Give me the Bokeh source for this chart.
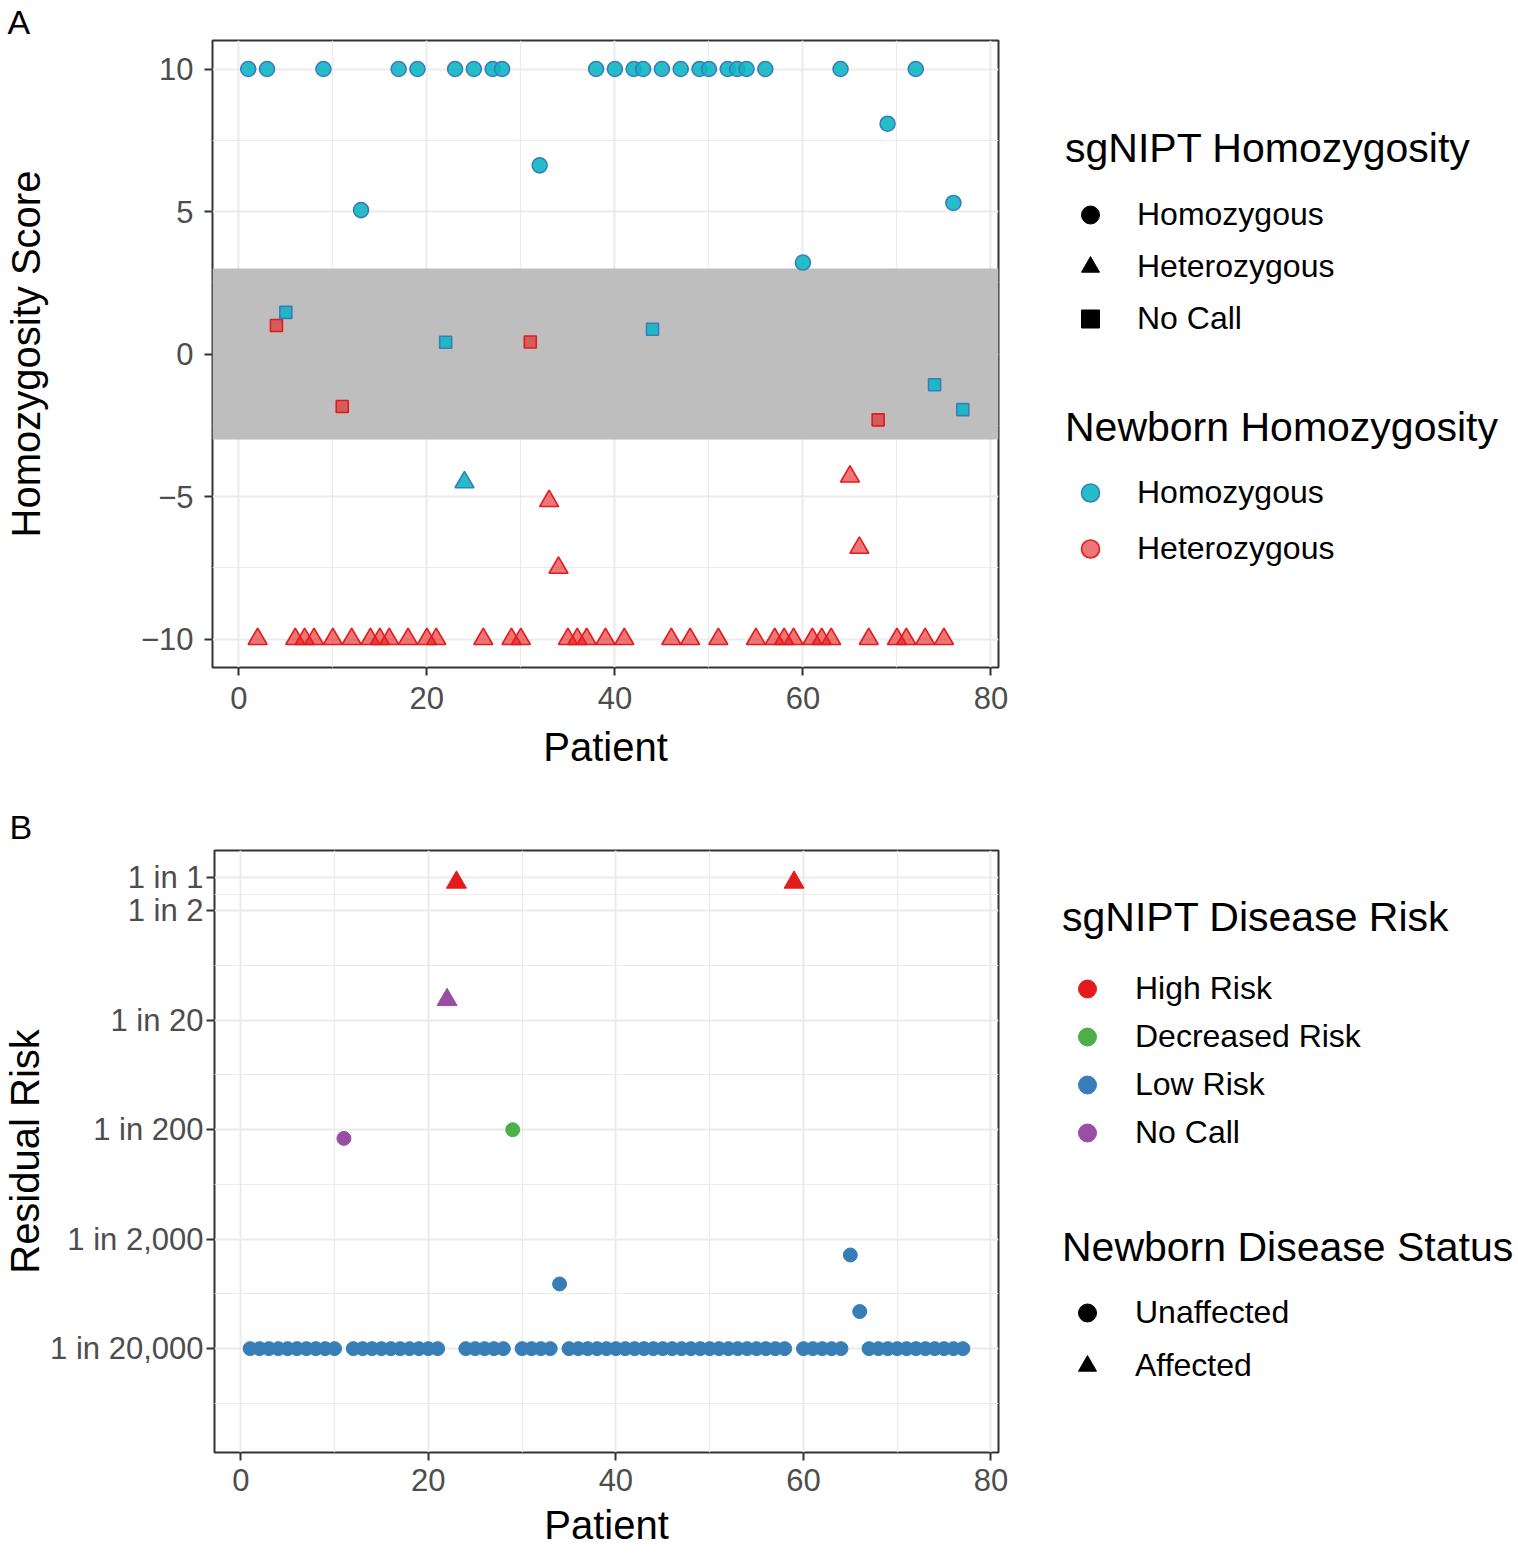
from bokeh.plotting import figure
from bokeh.models import (ColumnDataSource, FixedTicker, Range1d, BoxAnnotation,
                          Legend, LegendItem, Title)
from bokeh.layouts import column, row
from bokeh.transform import factor_cmap, factor_mark
from bokeh.embed import file_html
from bokeh.resources import INLINE

FONT = "Liberation Sans"

# ---------------- data ----------------
HOM, HET, NC = "Homozygous", "Heterozygous", "No Call"
patients = list(range(1, 78))

homozygosity_score = [
    10, -10, 10, 1.0, 1.46, -10, -10, -10, 10, -10,
    -1.84, -10, 5.05, -10, -10, -10, 10, -10, 10, -10,
    -10, 0.41, 10, -4.5, 10, -10, 10, 10, -10, -10,
    0.42, 6.62, -5.16, -7.5, -10, -10, -10, 10, -10, 10,
    -10, 10, 10, 0.87, 10, -10, 10, -10, 10, 10,
    -10, 10, 10, 10, -10, 10, -10, -10, -10, 3.21,
    -10, -10, -10, 10, -4.3, -6.8, -10, -2.31, 8.08, -10,
    -10, 10, -10, -1.08, -10, 5.30, -1.95]

sgnipt_homozygosity = [
    HOM, HET, HOM, NC, NC, HET, HET, HET, HOM, HET,
    NC, HET, HOM, HET, HET, HET, HOM, HET, HOM, HET,
    HET, NC, HOM, HET, HOM, HET, HOM, HOM, HET, HET,
    NC, HOM, HET, HET, HET, HET, HET, HOM, HET, HOM,
    HET, HOM, HOM, NC, HOM, HET, HOM, HET, HOM, HOM,
    HET, HOM, HOM, HOM, HET, HOM, HET, HET, HET, HOM,
    HET, HET, HET, HOM, HET, HET, HET, NC, HOM, HET,
    HET, HOM, HET, NC, HET, HOM, NC]

newborn_homozygosity = [
    HOM, HET, HOM, HET, HOM, HET, HET, HET, HOM, HET,
    HET, HET, HOM, HET, HET, HET, HOM, HET, HOM, HET,
    HET, HOM, HOM, HOM, HOM, HET, HOM, HOM, HET, HET,
    HET, HOM, HET, HET, HET, HET, HET, HOM, HET, HOM,
    HET, HOM, HOM, HOM, HOM, HET, HOM, HET, HOM, HOM,
    HET, HOM, HOM, HOM, HET, HOM, HET, HET, HET, HOM,
    HET, HET, HET, HOM, HET, HET, HET, HET, HOM, HET,
    HET, HOM, HET, HOM, HET, HOM, HOM]

band_low, band_high = -3, 3

HI, DE, LO, NCR = "High Risk", "Decreased Risk", "Low Risk", "No Call"
UN, AF = "Unaffected", "Affected"

sgnipt_risk = [
    LO, LO, LO, LO, LO, LO, LO, LO, LO, LO,
    NCR, LO, LO, LO, LO, LO, LO, LO, LO, LO,
    LO, NCR, HI, LO, LO, LO, LO, LO, DE, LO,
    LO, LO, LO, LO, LO, LO, LO, LO, LO, LO,
    LO, LO, LO, LO, LO, LO, LO, LO, LO, LO,
    LO, LO, LO, LO, LO, LO, LO, LO, HI, LO,
    LO, LO, LO, LO, LO, LO, LO, LO, LO, LO,
    LO, LO, LO, LO, LO, LO, LO]

newborn_status = [
    UN, UN, UN, UN, UN, UN, UN, UN, UN, UN,
    UN, UN, UN, UN, UN, UN, UN, UN, UN, UN,
    UN, AF, AF, UN, UN, UN, UN, UN, UN, UN,
    UN, UN, UN, UN, UN, UN, UN, UN, UN, UN,
    UN, UN, UN, UN, UN, UN, UN, UN, UN, UN,
    UN, UN, UN, UN, UN, UN, UN, UN, AF, UN,
    UN, UN, UN, UN, UN, UN, UN, UN, UN, UN,
    UN, UN, UN, UN, UN, UN, UN]

# residual risk expressed as "1 in N"
risk_one_in = [
    20000, 20000, 20000, 20000, 20000, 20000, 20000, 20000, 20000, 20000,
    240, 20000, 20000, 20000, 20000, 20000, 20000, 20000, 20000, 20000,
    20000, 13, 1.1, 20000, 20000, 20000, 20000, 20000, 200, 20000,
    20000, 20000, 20000, 5130, 20000, 20000, 20000, 20000, 20000, 20000,
    20000, 20000, 20000, 20000, 20000, 20000, 20000, 20000, 20000, 20000,
    20000, 20000, 20000, 20000, 20000, 20000, 20000, 20000, 1.1, 20000,
    20000, 20000, 20000, 20000, 2790, 9170, 20000, 20000, 20000, 20000,
    20000, 20000, 20000, 20000, 20000, 20000, 20000]

x_ticks = [0, 20, 40, 60, 80]
x_minor = [10, 30, 50, 70]
a_ticks = [-10, -5, 0, 5, 10]
a_minor = [-7.5, -2.5, 2.5, 7.5]
risk_tick_n = [1, 2, 20, 200, 2000, 20000]
risk_tick_labels = ["1 in 1", "1 in 2", "1 in 20", "1 in 200", "1 in 2,000", "1 in 20,000"]

# ---------------- styling ----------------
TEAL, TEAL_EDGE = "#0DB6C4", "#3A7DBA"
RED, RED_EDGE = "#E41A1C", "#E41A1C"
SET1 = {HI: "#E41A1C", DE: "#4DAF4A", LO: "#377EB8", NCR: "#984EA3"}
GRID = "#EBEBEB"
TICKLAB = "#4D4D4D"
LEFT = 210
FRAME_W = 788
RIGHT = 30
MAIN_W = LEFT + FRAME_W + RIGHT
LEG_W = 488
H_A, H_B = 800, 753
NAN = float("nan")
GLYPH_H = 45


def style(p, ytitle, ylab_standoff, ytitle_standoff, xlab_standoff, xtitle_standoff):
    p.background_fill_color = "white"
    p.border_fill_color = "white"
    p.outline_line_color = "#333333"
    p.outline_line_width = 2
    for g in (p.xgrid, p.ygrid):
        g.grid_line_color = GRID
        g.grid_line_width = 2
        g.minor_grid_line_color = GRID
        g.minor_grid_line_width = 1.2
    for ax in (p.xaxis[0], p.yaxis[0]):
        ax.axis_line_color = None
        ax.major_tick_line_color = "#333333"
        ax.major_tick_line_width = 2
        ax.major_tick_out = 8
        ax.major_tick_in = 0
        ax.minor_tick_line_color = None
        ax.major_label_text_font = FONT
        ax.major_label_text_font_size = "31px"
        ax.major_label_text_color = TICKLAB
        ax.axis_label_text_font = FONT
        ax.axis_label_text_font_size = "40px"
        ax.axis_label_text_font_style = "normal"
        ax.axis_label_text_color = "black"
    p.xaxis[0].axis_label = "Patient"
    p.xaxis[0].major_label_standoff = xlab_standoff
    p.xaxis[0].axis_label_standoff = xtitle_standoff
    p.yaxis[0].axis_label = ytitle
    p.yaxis[0].major_label_standoff = ylab_standoff
    p.yaxis[0].axis_label_standoff = ytitle_standoff


def legend_fig(h):
    f = figure(width=LEG_W, height=h, x_range=Range1d(0, 1), y_range=Range1d(0, 1),
               x_axis_location=None, y_axis_location=None, output_backend="svg",
               toolbar_location=None, min_border=0)
    f.xgrid.visible = False
    f.ygrid.visible = False
    f.outline_line_color = None
    f.background_fill_color = "white"
    f.border_fill_color = "white"
    return f


def proxy(f, **kw):
    # legend-only renderer: a single NaN point, never drawn in the plot area
    return f.scatter(source=ColumnDataSource(dict(x=[NAN], y=[NAN])), x="x", y="y", **kw)


def make_legend(title, items, loc, spacing, standoff, label_standoff):
    return Legend(title=title, items=items, location=loc, orientation="vertical",
                  title_text_font=FONT, title_text_font_size="41px",
                  title_text_font_style="normal", title_text_color="black",
                  label_text_font=FONT, label_text_font_size="32px", label_text_color="black",
                  glyph_width=50, glyph_height=GLYPH_H, label_standoff=label_standoff,
                  spacing=spacing, title_standoff=standoff, padding=0, margin=0,
                  border_line_color=None, background_fill_alpha=0)


def panel_title(p, text, standoff):
    p.add_layout(Title(text=text, align="left", offset=-(LEFT - 5), text_font=FONT,
                       text_font_size="34px", text_font_style="normal", text_color="black",
                       standoff=standoff), "above")


# ---------------- panel A ----------------
size_map = {HOM: 15, HET: 19, NC: 12}
alpha_map = {HOM: 0.9, HET: 0.6}
srcA = ColumnDataSource(dict(
    patient=patients, score=homozygosity_score, call=sgnipt_homozygosity,
    newborn=newborn_homozygosity,
    size=[size_map[c] for c in sgnipt_homozygosity],
    alpha=[alpha_map[n] for n in newborn_homozygosity]))

xtick = FixedTicker(ticks=x_ticks, minor_ticks=x_minor)
pA = figure(width=MAIN_W, height=H_A, x_range=Range1d(-2.8, 80.8), y_range=Range1d(-11, 11),
            output_backend="svg", toolbar_location=None,
            min_border_left=LEFT, min_border_right=RIGHT, min_border_top=38,
            min_border_bottom=H_A - 38 - 629)
style(pA, "Homozygosity Score", 11, 90, 11, 13)
ytickA = FixedTicker(ticks=a_ticks, minor_ticks=a_minor)
pA.xaxis[0].ticker = xtick
pA.xgrid[0].ticker = xtick
pA.yaxis[0].ticker = ytickA
pA.ygrid[0].ticker = ytickA
pA.yaxis[0].major_label_overrides = {-10: "\u221210", -5: "\u22125", 0: "0", 5: "5", 10: "10"}
panel_title(pA, "A", 0)

pA.add_layout(BoxAnnotation(bottom=band_low, top=band_high, fill_color="#BEBEBE", fill_alpha=1,
                            line_color=None, level="underlay"))

pA.scatter("patient", "score", source=srcA, size="size",
           marker=factor_mark("call", ["circle", "triangle", "square"], [HOM, HET, NC]),
           fill_color=factor_cmap("newborn", [TEAL, RED], [HOM, HET]),
           fill_alpha="alpha",
           line_color=factor_cmap("newborn", [TEAL_EDGE, RED_EDGE], [HOM, HET]),
           line_width=1.6)

legA = legend_fig(H_A)
la1 = proxy(legA, marker="circle", color="black")
la2 = proxy(legA, marker="triangle", color="black")
la3 = proxy(legA, marker="square", color="black")
lb1 = proxy(legA, marker="circle", fill_color=TEAL, fill_alpha=0.9, line_color=TEAL_EDGE, line_width=1.6)
lb2 = proxy(legA, marker="circle", fill_color=RED, fill_alpha=0.6, line_color=RED_EDGE, line_width=1.6)
legA.add_layout(make_legend("sgNIPT Homozygosity",
                            [LegendItem(label=HOM, renderers=[la1]),
                             LegendItem(label=HET, renderers=[la2]),
                             LegendItem(label=NC, renderers=[la3])],
                            (37, 326), 7, 20, 22))
legA.add_layout(make_legend("Newborn Homozygosity",
                            [LegendItem(label=HOM, renderers=[lb1]),
                             LegendItem(label=HET, renderers=[lb2])],
                            (37, 96), 11, 19, 22))

# ---------------- panel B ----------------
srcB = ColumnDataSource(dict(
    patient=patients, risk=[1.0 / n for n in risk_one_in],
    call=sgnipt_risk, status=newborn_status,
    size=[14 if s == UN else 20 for s in newborn_status]))

pB = figure(width=MAIN_W, height=H_B, x_range=Range1d(-2.8, 80.8),
            y_range=Range1d(10 ** -5.25, 10 ** 0.25), y_axis_type="log",
            output_backend="svg", toolbar_location=None,
            min_border_left=LEFT, min_border_right=RIGHT, min_border_top=48,
            min_border_bottom=H_B - 48 - 604)
style(pB, "Residual Risk", 3, 0, 8, 9)
risk_ticks = [1.0 / n for n in risk_tick_n]
minor_exp = [-0.1505, -0.801, -1.801, -2.801, -3.801, -4.801]
ytickB = FixedTicker(ticks=risk_ticks, minor_ticks=[10 ** m for m in minor_exp])
xtickB = FixedTicker(ticks=x_ticks, minor_ticks=x_minor)
pB.xaxis[0].ticker = xtickB
pB.xgrid[0].ticker = xtickB
pB.yaxis[0].ticker = ytickB
pB.ygrid[0].ticker = ytickB
pB.yaxis[0].major_label_overrides = {t: lab for t, lab in zip(risk_ticks, risk_tick_labels)}
panel_title(pB, "B", 10)

risk_colors = [SET1[HI], SET1[DE], SET1[LO], SET1[NCR]]
pB.scatter("patient", "risk", source=srcB, size="size",
           marker=factor_mark("status", ["circle", "triangle"], [UN, AF]),
           fill_color=factor_cmap("call", risk_colors, [HI, DE, LO, NCR]),
           line_color=factor_cmap("call", risk_colors, [HI, DE, LO, NCR]),
           line_width=1)

legB = legend_fig(H_B)
proxies = [proxy(legB, marker="circle", color=SET1[k]) for k in (HI, DE, LO, NCR)]
lu = proxy(legB, marker="circle", color="black")
lf = proxy(legB, marker="triangle", color="black")
legB.add_layout(make_legend("sgNIPT Disease Risk",
                            [LegendItem(label=k, renderers=[r])
                             for k, r in zip((HI, DE, LO, NCR), proxies)],
                            (34, 297), 3, 25, 23))
legB.add_layout(make_legend("Newborn Disease Status",
                            [LegendItem(label=UN, renderers=[lu]),
                             LegendItem(label=AF, renderers=[lf])],
                            (34, 64), 8, 19, 23))

layout = column(row(pA, legA, spacing=0), row(pB, legB, spacing=0), spacing=0)
open("out.html", "w").write(file_html(layout, INLINE))
